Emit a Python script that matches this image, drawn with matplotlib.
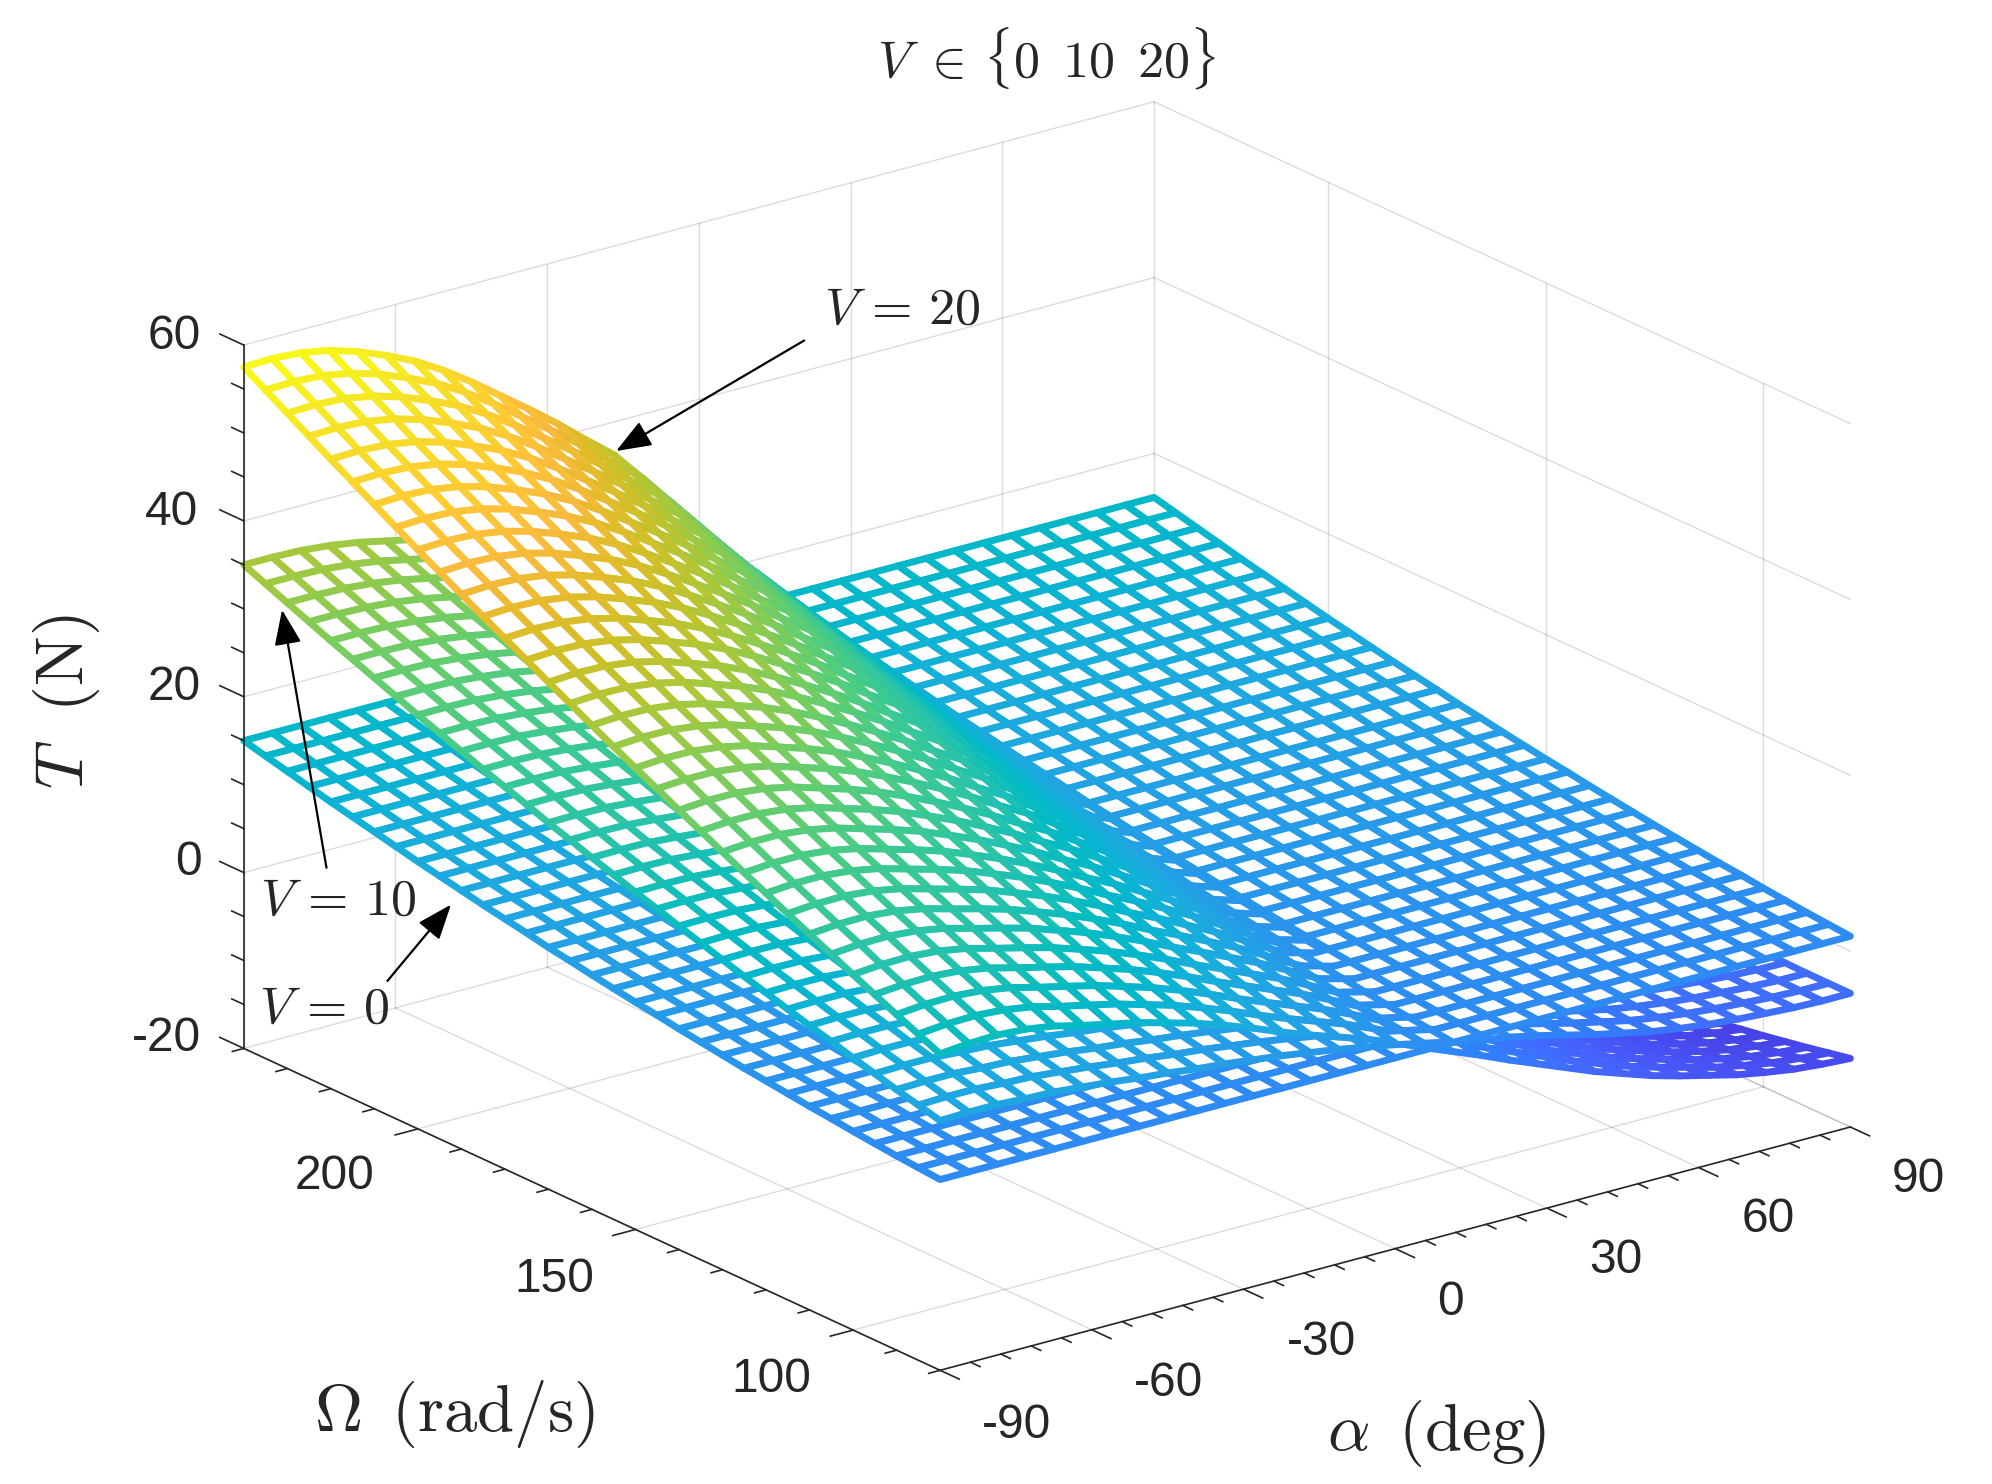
import numpy as np
import matplotlib
matplotlib.use("Agg")
import matplotlib.pyplot as plt
from matplotlib.colors import LinearSegmentedColormap, Normalize
from matplotlib.patches import FancyArrowPatch
from mpl_toolkits.mplot3d import proj3d
from mpl_toolkits.mplot3d.art3d import Poly3DCollection

# ---------- data ----------
alpha = [-90, -84.375, -78.75, -73.125, -67.5, -61.875, -56.25, -50.625, -45, -39.375, -33.75,
         -28.125, -22.5, -16.875, -11.25, -5.625, 0, 5.625, 11.25, 16.875, 22.5, 28.125, 33.75,
         39.375, 45, 50.625, 56.25, 61.875, 67.5, 73.125, 78.75, 84.375, 90]
omega = [80, 85, 90, 95, 100, 105, 110, 115, 120, 125, 130, 135, 140, 145, 150, 155, 160, 165,
         170, 175, 180, 185, 190, 195, 200, 205, 210, 215, 220, 225, 230, 235, 240]
# V = 0 : thrust depends on omega only
T_v0 = [1.7, 1.9, 2.1, 2.35, 2.6, 2.9, 3.15, 3.45, 3.75, 4.05, 4.4, 4.75, 5.1, 5.5, 5.85, 6.25,
        6.65, 7.1, 7.5, 8.0, 8.45, 8.9, 9.4, 9.9, 10.4, 10.95, 11.5, 12.05, 12.6, 13.2, 13.8, 14.4, 15.0]
# edge profiles along alpha (Omega = 80 and Omega = 240)
T_v10_low = [8.4, 8.5, 8.5, 8.3, 8.2, 7.9, 7.6, 7.2, 6.9, 6.5, 6.2, 5.8, 5.4, 4.9, 4.4, 3.8, 3.2,
             2.5, 1.8, 1.1, 0.6, -0.1, -0.9, -1.7, -2.4, -3.1, -3.6, -4.0, -4.3, -4.5, -4.7, -4.8, -4.8]
T_v10_high = [35.0, 35.0, 34.9, 34.6, 34.1, 33.4, 32.7, 31.8, 30.8, 29.7, 28.6, 27.4, 26.2, 25.0,
              23.4, 21.7, 20.0, 18.3, 16.7, 15.1, 13.7, 12.4, 11.1, 9.8, 8.6, 7.5, 6.5, 5.6, 4.8,
              4.0, 3.3, 2.6, 2.0]
T_v20_low = [16.0, 16.3, 16.4, 16.2, 15.7, 14.9, 14.2, 13.5, 12.6, 11.7, 10.6, 9.4, 8.1, 6.9, 5.8,
             4.7, 3.4, 2.0, 0.7, -0.6, -2.0, -3.3, -4.6, -5.9, -7.0, -8.1, -9.0, -9.8, -10.6,
             -11.2, -11.7, -12.0, -12.2]
T_v20_high = [57.5, 57.6, 57.4, 56.8, 55.8, 54.5, 53.0, 51.1, 48.9, 46.5, 44.1, 41.6, 38.9, 36.3,
              32.8, 29.2, 25.5, 21.9, 18.6, 15.3, 12.0, 8.9, 5.6, 2.3, -1.0, -4.3, -7.5, -10.5,
              -13.4, -16.0, -18.4, -20.4, -22.0]

alpha_major = [-90, -60, -30, 0, 30, 60, 90]
alpha_labels = ["-90", "-60", "-30", "0", "30", "60", "90"]
omega_major = [100, 150, 200]
omega_labels = ["100", "150", "200"]
t_major = [-20, 0, 20, 40, 60]
t_labels = ["-20", "0", "20", "40", "60"]
alpha_minor = [a for a in range(-90, 91, 6) if a % 30 != 0]
omega_minor = [o for o in range(80, 241, 10) if o not in omega_major]
t_minor = [t for t in range(-20, 61, 5) if t % 20 != 0]

# parula: row of the 64 row map, then its colour
parula = [(1, 0.2422, 0.1504, 0.6603), (4, 0.2647, 0.1978, 0.7952), (7, 0.2783, 0.2559, 0.8991),
          (10, 0.2810, 0.3228, 0.9579), (12, 0.2760, 0.3667, 0.9829), (15, 0.2440, 0.4358, 0.9988),
          (18, 0.1834, 0.5074, 0.9798), (21, 0.1687, 0.5703, 0.9359), (24, 0.1380, 0.6276, 0.8973),
          (27, 0.0952, 0.6798, 0.8598), (29, 0.0297, 0.7082, 0.8163), (31, 0.0067, 0.7312, 0.7660),
          (33, 0.0964, 0.7500, 0.7120), (35, 0.1717, 0.7670, 0.6554), (37, 0.2161, 0.7843, 0.5923),
          (39, 0.2906, 0.7973, 0.5188), (41, 0.3909, 0.8029, 0.4354), (43, 0.5044, 0.7993, 0.3480),
          (45, 0.6174, 0.7876, 0.2612), (47, 0.7242, 0.7698, 0.1910), (49, 0.8203, 0.7498, 0.1535),
          (51, 0.9035, 0.7330, 0.1774), (53, 0.9728, 0.7298, 0.2394), (55, 0.9970, 0.7659, 0.2199),
          (57, 0.9892, 0.8137, 0.1885), (59, 0.9676, 0.8639, 0.1643), (61, 0.9597, 0.9135, 0.1423),
          (63, 0.9691, 0.9606, 0.1064), (64, 0.9769, 0.9839, 0.0805)]

# ---------- style ----------
plt.rcParams["mathtext.fontset"] = "cm"
plt.rcParams["font.family"] = "Liberation Sans"
INK = (0.15, 0.15, 0.15)
W_PX, H_PX = 1992, 1484
SCALE = W_PX / 1568


def frac(x, y):
    """Reference position (in the 1568 wide preview) to figure fraction."""
    return x / 1568, 1 - y / 1168


fig = plt.figure(figsize=(W_PX / 100, H_PX / 100), dpi=100, facecolor="white")
ax = fig.add_axes([0, 0, 1, 1], projection="3d", proj_type="ortho", computed_zorder=False)
ax.set_xlim(-90, 90)
ax.set_ylim(80, 240)
ax.set_zlim(-20, 60)
ax.set_box_aspect((900.6, 906.0, 591.7))
ax.view_init(elev=20.58, azim=-127.25)
ax.set_axis_off()
ax.patch.set_alpha(0)


def place_axes():
    """Fit the square 3D axes so that the box corners land on the reference ones."""
    target_F = np.array([740.0, 1168 - 1078.5]) * SCALE
    target_R = np.array([1456.5, 1168 - 887.0]) * SCALE
    size = float(W_PX)
    left, bottom = 0.0, 0.0
    for _ in range(3):
        ax.set_position([left / W_PX, bottom / H_PX, size / W_PX, size / H_PX])
        ax.apply_aspect()
        M = ax.get_proj()
        pts = []
        for a in (-90, 90):
            xs, ys, _z = proj3d.proj_transform(a, 80, -20, M)
            pts.append(ax.transData.transform((xs, ys)))
        k = np.linalg.norm(target_R - target_F) / np.linalg.norm(pts[1] - pts[0])
        size *= k
        ax.set_position([left / W_PX, bottom / H_PX, size / W_PX, size / H_PX])
        ax.apply_aspect()
        xs, ys, _z = proj3d.proj_transform(-90, 80, -20, ax.get_proj())
        now = ax.transData.transform((xs, ys))
        left += target_F[0] - now[0]
        bottom += target_F[1] - now[1]
    ax.set_position([left / W_PX, bottom / H_PX, size / W_PX, size / H_PX])


place_axes()

A = np.array(alpha, float)
O = np.array(omega, float)
T0 = np.array(T_v0, float)


def surface(low, high):
    low, high = np.array(low, float), np.array(high, float)
    ex_low, ex_high = low - T0[0], high - T0[-1]
    blend = ((O - O[0]) / (O[-1] - O[0]))[:, None]
    return T0[:, None] + ex_low[None, :] * (1 - blend) + ex_high[None, :] * blend


surfaces = [np.tile(T0[:, None], (1, len(A))), surface(T_v10_low, T_v10_high), surface(T_v20_low, T_v20_high)]
vmin = min(s.min() for s in surfaces)
vmax = max(s.max() for s in surfaces)
cmap = LinearSegmentedColormap.from_list(
    "parula", [((row - 1) / 63, (r, g, b)) for row, r, g, b in parula], N=256)
norm = Normalize(vmin, vmax)

# ---------- grid ----------
GRID = dict(color=INK, alpha=0.16, lw=1.0, zorder=1, clip_on=False)
for t in t_major:
    ax.plot([-90, 90], [240, 240], [t, t], **GRID)
    ax.plot([90, 90], [240, 80], [t, t], **GRID)
for a in alpha_major:
    ax.plot([a, a], [240, 240], [-20, 60], **GRID)
    ax.plot([a, a], [80, 240], [-20, -20], **GRID)
for o in omega_major:
    ax.plot([90, 90], [o, o], [-20, 60], **GRID)
    ax.plot([-90, 90], [o, o], [-20, -20], **GRID)

# ---------- meshes ----------
polys, edge = [], []
for S in surfaces:
    for j in range(len(O) - 1):
        for i in range(len(A) - 1):
            polys.append([(A[i], O[j], S[j, i]), (A[i + 1], O[j], S[j, i + 1]),
                          (A[i + 1], O[j + 1], S[j + 1, i + 1]), (A[i], O[j + 1], S[j + 1, i])])
            edge.append(cmap(norm((S[j, i] + S[j, i + 1] + S[j + 1, i] + S[j + 1, i + 1]) / 4)))
mesh = Poly3DCollection(polys, facecolors="white", edgecolors=edge, linewidths=5.0, zorder=2)
mesh.set_clip_on(False)
mesh.set_joinstyle("round")
ax.add_collection3d(mesh)
ax.set_xlim(-90, 90)
ax.set_ylim(80, 240)
ax.set_zlim(-20, 60)

# ---------- axes lines and ticks ----------
AXL = dict(color=INK, lw=1.2, zorder=3, clip_on=False)
ax.plot([-90, -90], [240, 240], [-20, 60], **AXL)
ax.plot([-90, -90], [80, 240], [-20, -20], **AXL)
ax.plot([-90, 90], [80, 80], [-20, -20], **AXL)
for t in t_major + t_minor:
    d = 5.5 if t in t_major else 2.75
    ax.plot([-90, -90], [240, 240 + d], [t, t], **AXL)
for o in omega_major + omega_minor:
    d = 4.5 if o in omega_major else 2.25
    ax.plot([-90, -90 - d], [o, o], [-20, -20], **AXL)
for a in alpha_major + alpha_minor:
    d = 4.4 if a in alpha_major else 2.2
    ax.plot([a, a], [80, 80 - d], [-20, -20], **AXL)

# ---------- text ----------
TICK = dict(fontsize=34.5, color=INK, ha="center", va="center", family="Liberation Sans")
for lab, (x, y) in zip(t_labels, [(131, 817), (148, 679), (137, 541), (135, 403), (137, 265)]):
    fig.text(*frac(x, y), lab, **TICK)
for lab, (x, y) in zip(omega_labels, [(607, 1086), (436, 1007), (263, 926)]):
    fig.text(*frac(x, y), lab, **TICK)
for lab, (x, y) in zip(alpha_labels, [(800, 1122), (920, 1089), (1040, 1057), (1142, 1025),
                                      (1272, 992), (1392, 960), (1510, 928)]):
    fig.text(*frac(x, y), lab, **TICK)

LAB = dict(color=INK, ha="center", va="center")
fig.text(*frac(824, 46), r"$V\ \in\,\{0\ \,10\ \,20\}$", fontsize=37.5, **LAB)
fig.text(*frac(358, 1113), r"$\Omega\ \,(\mathrm{rad/s})$", fontsize=48, **LAB)
fig.text(*frac(1131, 1128), r"$\alpha\ \,(\mathrm{deg})$", fontsize=48, **LAB)
fig.text(*frac(52, 552), r"$T\ \ (\mathrm{N})$", fontsize=48, rotation=90, **LAB)
fig.text(*frac(710, 244), r"$V\,=\,20$", fontsize=37.5, **LAB)
fig.text(*frac(266, 709), r"$V\,=\,10$", fontsize=37.5, **LAB)
fig.text(*frac(255, 794), r"$V\,=\,0$", fontsize=37.5, **LAB)

for start, end in [((633, 268), (485, 355)), ((257, 683), (222, 480)), ((305, 772), (355, 712))]:
    fig.add_artist(FancyArrowPatch(frac(*start), frac(*end), transform=fig.transFigure,
                                   arrowstyle="-|>,head_length=0.7,head_width=0.27",
                                   mutation_scale=31, lw=1.6, color="black",
                                   shrinkA=0, shrinkB=0, zorder=10))

fig.savefig("out.png", dpi=100, facecolor="white")
